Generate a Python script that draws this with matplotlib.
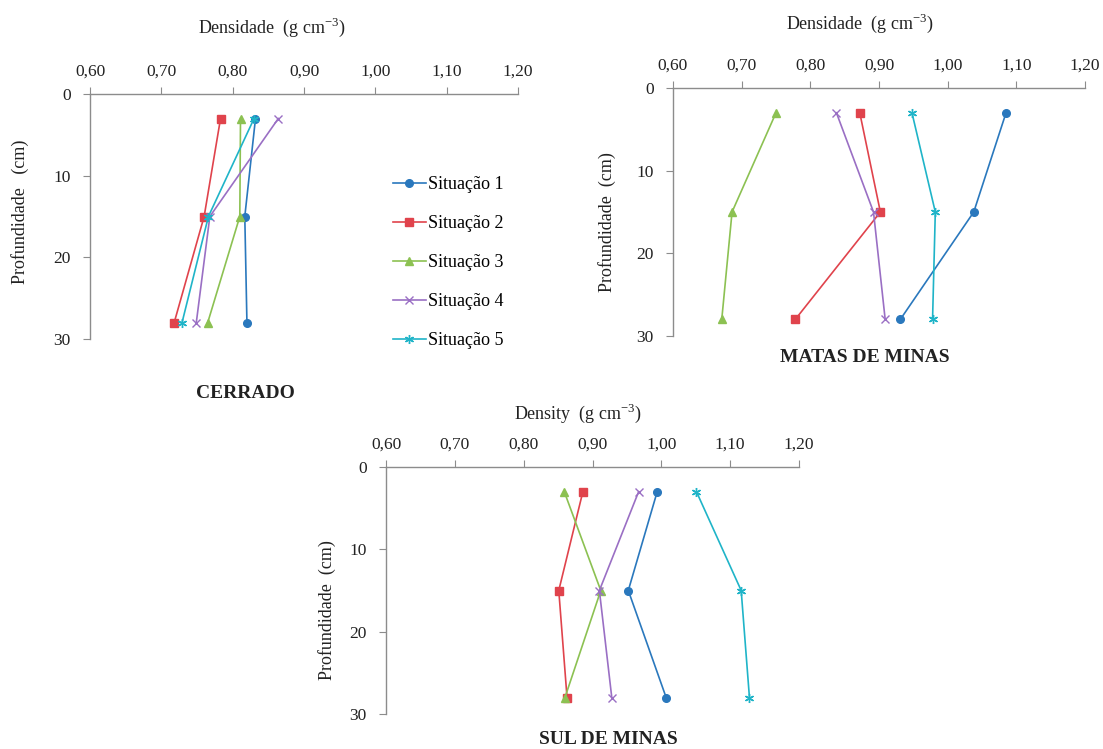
import matplotlib
matplotlib.use('Agg')
import matplotlib.pyplot as plt

plt.rcParams['font.family'] = ['Liberation Serif', 'DejaVu Serif']
plt.rcParams['mathtext.fontset'] = 'custom'
plt.rcParams['mathtext.rm'] = 'Liberation Serif'

# profundidade (cm)
depth = [3, 15, 28]

series_names = ['Situação 1', 'Situação 2', 'Situação 3', 'Situação 4', 'Situação 5']

# densidade (g cm-3) por situação, em cada região
cerrado = [
    [0.832, 0.817, 0.820],
    [0.783, 0.760, 0.718],
    [0.811, 0.810, 0.765],
    [0.864, 0.768, 0.749],
    [0.830, 0.766, 0.729],
]
matas = [
    [1.085, 1.038, 0.931],
    [0.872, 0.902, 0.778],
    [0.750, 0.686, 0.671],
    [0.838, 0.892, 0.909],
    [0.948, 0.982, 0.978],
]
sul = [
    [0.994, 0.952, 1.007],
    [0.886, 0.851, 0.863],
    [0.859, 0.912, 0.860],
    [0.967, 0.910, 0.928],
    [1.051, 1.116, 1.128],
]

xticks = [0.60, 0.70, 0.80, 0.90, 1.00, 1.10, 1.20]
yticks = [0, 10, 20, 30]

colors = ['#2a78bd', '#e0434c', '#8cc152', '#9a6fc4', '#1fb4c8']
markers = ['o', 's', '^', 'x', (6, 2, 0)]
msizes = [5.5, 5.5, 5.5, 5.5, 6.5]

W, H = 1103, 749
fig = plt.figure(figsize=(W / 100, H / 100), dpi=100)

axis_gray = '#8c8c8c'
txt = '#222222'


def px_axes(l, t, r, b):
    return fig.add_axes([l / W, 1 - b / H, (r - l) / W, (b - t) / H])


def ftext(x, y, s, **kw):
    fig.text(x / W, 1 - y / H, s, ha='center', va='center', color=txt, **kw)


def draw_panel(ax, data):
    for i in range(len(data)):
        ax.plot(data[i], depth, color=colors[i], marker=markers[i],
                markersize=msizes[i], linewidth=1.2, label=series_names[i],
                markeredgewidth=1.0)
    ax.set_xlim(0.60, 1.20)
    ax.set_ylim(30, 0)
    ax.set_xticks(xticks)
    ax.set_xticklabels([('%.2f' % v).replace('.', ',') for v in xticks])
    ax.set_yticks(yticks)
    ax.xaxis.tick_top()
    for s in ['right', 'bottom']:
        ax.spines[s].set_visible(False)
    for s in ['left', 'top']:
        ax.spines[s].set_color(axis_gray)
        ax.spines[s].set_linewidth(1.0)
    ax.tick_params(axis='both', direction='out', length=5, color=axis_gray,
                   labelsize=12.5, labelcolor=txt)
    ax.tick_params(axis='x', pad=5)
    ax.tick_params(axis='y', pad=9)


ax1 = px_axes(90, 94, 518, 339)
draw_panel(ax1, cerrado)
ftext(272, 27, 'Densidade  (g cm$^{\\mathrm{-3}}$)', fontsize=13)
ftext(20, 212, 'Profundidade   (cm)', fontsize=13, rotation=90)
ftext(245, 393, 'CERRADO', fontsize=14, fontweight='bold')
ax1.legend(loc='upper left', bbox_to_anchor=(393 / W, 1 - 176 / H),
           bbox_transform=fig.transFigure, frameon=False, fontsize=13,
           labelspacing=1.22, handlelength=1.8, handletextpad=0.15,
           borderaxespad=0, borderpad=0)

ax2 = px_axes(673, 88, 1085, 336)
draw_panel(ax2, matas)
ftext(860, 23, 'Densidade  (g cm$^{\\mathrm{-3}}$)', fontsize=13)
ftext(607, 222, 'Profundidade  (cm)', fontsize=13, rotation=90)
ftext(865, 358, 'MATAS DE MINAS', fontsize=14, fontweight='bold')

ax3 = px_axes(386, 467, 799, 714)
draw_panel(ax3, sul)
ftext(578, 413, 'Density  (g cm$^{\\mathrm{-3}}$)', fontsize=13)
ftext(327, 610, 'Profundidade  (cm)', fontsize=13, rotation=90)
ftext(608, 740, 'SUL DE MINAS', fontsize=14, fontweight='bold')

fig.savefig('out.png', dpi=100)
